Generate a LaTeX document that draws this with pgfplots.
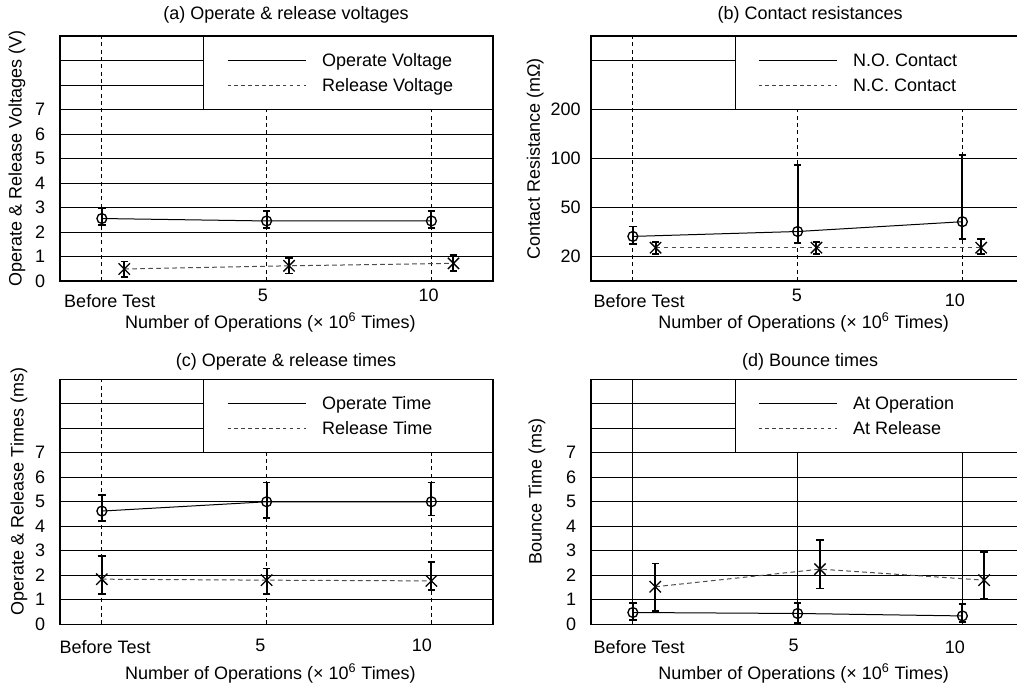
\documentclass[border=0pt]{standalone}
\usepackage{fontspec}
\setmainfont{Liberation Sans}
\usepackage{pgfplots}
\pgfplotsset{compat=1.18}
\definecolor{relgray}{gray}{0.3}
\pgfplotsset{
  panel/.style={
    set layers, mark layer=axis foreground, clip=false,
    scale only axis, width=324.75pt, height=183.75pt,
    xmin=-1.27, xmax=11.87,
    axis line style={black, line width=0.9pt},
    tick style={draw=none}, major tick length=0pt,
    ymajorgrids=true, xmajorgrids=false,
    major grid style={black, line width=0.7pt},
    extra x ticks={0,5,10}, extra x tick labels={},
    /pgf/number format/assume math mode=true,
    xticklabel style={anchor=base, inner sep=0pt, yshift=-15.5pt},
    yticklabel style={anchor=east, inner sep=0pt, xshift=-11pt},
    every axis title shift=0pt,
    title style={anchor=center, inner sep=0pt},
    xlabel style={anchor=center, inner sep=0pt},
    ylabel style={anchor=center, inner sep=0pt},
    xlabel={Number of Operations (× 10\textsuperscript{6} Times)},
    legend image code/.code={\draw[#1] (0pt,0pt) -- (58.5pt,0pt);},
    legend style={draw=none, fill=none, inner sep=0pt, outer sep=0pt,
      at={(rel axis cs:0.3857,0.9433)}, anchor=north west,
      row sep=3.55pt, column sep=12pt,
      nodes={inner sep=0pt, text height=12.4pt, text depth=2.8pt}},
    legend cell align=left,
  },
  dashgrid/.style={extra x tick style={grid=major, major grid style={black, line width=0.7pt, dash pattern=on 3pt off 2.5pt}}},
  solidgrid/.style={extra x tick style={grid=major, major grid style={black, line width=0.7pt}}},
  opline/.style={black, line width=0.75pt, mark=o, mark size=3.7pt,
    mark options={solid, fill=white, line width=1pt},
    error bars/.cd, y dir=both, y explicit,
    error bar style={line width=1.5pt, solid, black},
    error mark options={rotate=90, line width=1.3pt, mark size=2.8pt, solid, black}},
  relline/.style={relgray, line width=0.75pt, dash pattern=on 3.5pt off 2.5pt, mark=x, mark size=6pt,
    mark options={solid, black, line width=1pt},
    error bars/.cd, y dir=both, y explicit,
    error bar style={line width=1.5pt, solid, black},
    error mark options={rotate=90, line width=1.3pt, mark size=2.8pt, solid, black}},
  legsolid/.style={black, line width=0.75pt},
  legdash/.style={black!75, line width=0.75pt, dash pattern=on 2.6pt off 2.6pt},
}
\begin{document}
\begin{tikzpicture}[font=\fontsize{13.5}{16}\selectfont]
% (a)
\begin{axis}[panel, dashgrid, at={(45pt,305.25pt)},
  ymin=0, ymax=10, ytick={0,...,9}, yticklabels={0,1,2,3,4,5,6,7,{},{}},
  xtick={0.24,4.89,9.92}, xticklabels={\raisebox{-4.2pt}{Before Test},5,10},
  title={(a) Operate \& release voltages},
  title style={at={(axis description cs:0.522,1.086)}},
  xlabel style={at={(axis description cs:0.486,-0.171)}},
  ylabel={Operate \& Release Voltages (V)},
  ylabel style={at={(axis description cs:-0.0993,0.5)}},
]
\addlegendimage{legsolid}\addlegendentry{Operate Voltage}
\addlegendimage{legdash}\addlegendentry{Release Voltage}
\addplot[forget plot, opline] coordinates {
  (0,2.55) += (0,0.42) -= (0,0.27)
  (5,2.45) += (0,0.41) -= (0,0.28)
  (10,2.45) += (0,0.41) -= (0,0.28)
};
\addplot[forget plot, relline] coordinates {
  (0.68,0.49) += (0,0.31) -= (0,0.32)
  (5.68,0.62) += (0,0.33) -= (0,0.31)
  (10.67,0.72) += (0,0.34) -= (0,0.30)
};
\draw[black, line width=0.9pt, fill=white] (rel axis cs:0.331,0.7) rectangle (rel axis cs:1,1);
\end{axis}
% (b)
\begin{axis}[panel, dashgrid, at={(443.25pt,305.25pt)},
  ymin=0.5, ymax=5.5, ytick={1,2,3,4,5}, yticklabels={20,50,100,200,{}},
  yticklabel style={xshift=3.5pt},
  xtick={0.19,4.98,9.77}, xticklabels={\raisebox{-4.2pt}{Before Test},5,\raisebox{-3.75pt}{10}},
  title={(b) Contact resistances},
  title style={at={(axis description cs:0.506,1.086)}},
  xlabel style={at={(axis description cs:0.491,-0.171)}},
  ylabel={Contact Resistance (mΩ)},
  ylabel style={at={(axis description cs:-0.129,0.498)}},
]
\addlegendimage{legsolid}\addlegendentry{N.O. Contact}
\addlegendimage{legdash}\addlegendentry{N.C. Contact}
\addplot[forget plot, opline] coordinates {
  (0,1.41) += (0,0.20) -= (0,0.15)
  (5,1.51) += (0,1.35) -= (0,0.24)
  (10,1.71) += (0,1.36) -= (0,0.36)
};
\addplot[forget plot, relline] coordinates {
  (0.69,1.18) += (0,0.12) -= (0,0.125)
  (5.57,1.18) += (0,0.12) -= (0,0.125)
  (10.57,1.18) += (0,0.17) -= (0,0.125)
};
\draw[black, line width=0.9pt, fill=white] (rel axis cs:0.333,0.7) rectangle (rel axis cs:1,1);
\end{axis}
% (c)
\begin{axis}[panel, dashgrid, at={(45pt,47.8pt)},
  ymin=0, ymax=10, ytick={0,...,9}, yticklabels={0,1,2,3,4,5,6,7,{},{}},
  xtick={0.10,4.81,9.71}, xticklabels={\raisebox{-6.75pt}{Before Test},\raisebox{-5pt}{5},\raisebox{-5pt}{10}},
  title={(c) Operate \& release times},
  title style={at={(axis description cs:0.522,1.072)}},
  xlabel style={at={(axis description cs:0.486,-0.2)}},
  ylabel={Operate \& Release Times (ms)},
  ylabel style={at={(axis description cs:-0.0947,0.542)}},
]
\addlegendimage{legsolid}\addlegendentry{Operate Time}
\addlegendimage{legdash}\addlegendentry{Release Time}
\addplot[forget plot, opline] coordinates {
  (0,4.62) += (0,0.65) -= (0,0.41)
  (5,5.0) += (0,0.79) -= (0,0.67)
  (10,5.0) += (0,0.79) -= (0,0.56)
};
\addplot[forget plot, relline] coordinates {
  (0,1.84) += (0,0.94) -= (0,0.61)
  (5,1.80) += (0,0.48) -= (0,0.55)
  (10,1.77) += (0,0.77) -= (0,0.38)
};
\draw[black, line width=0.9pt, fill=white] (rel axis cs:0.331,0.7) rectangle (rel axis cs:1,1);
\end{axis}
% (d)
\begin{axis}[panel, solidgrid, at={(443.25pt,47.8pt)},
  ymin=0, ymax=10, ytick={0,...,9}, yticklabels={0,1,2,3,4,5,6,7,{},{}},
  xtick={0.19,4.88,9.77}, xticklabels={\raisebox{-6.75pt}{Before Test},\raisebox{-5pt}{5},\raisebox{-6.1pt}{10}},
  title={(d) Bounce times},
  title style={at={(axis description cs:0.506,1.072)}},
  xlabel style={at={(axis description cs:0.491,-0.2)}},
  ylabel={Bounce Time (ms)},
  ylabel style={at={(axis description cs:-0.125,0.542)}},
]
\addlegendimage{legsolid}\addlegendentry{At Operation}
\addlegendimage{legdash}\addlegendentry{At Release}
\addplot[forget plot, opline] coordinates {
  (0,0.48) += (0,0.38) -= (0,0.31)
  (5,0.44) += (0,0.43) -= (0,0.40)
  (10,0.34) += (0,0.48) -= (0,0.26)
};
\addplot[forget plot, relline] coordinates {
  (0.68,1.53) += (0,0.95) -= (0,0.98)
  (5.68,2.25) += (0,1.18) -= (0,0.79)
  (10.66,1.80) += (0,1.16) -= (0,0.78)
};
\draw[black, line width=0.9pt, fill=white] (rel axis cs:0.333,0.7) rectangle (rel axis cs:1,1);
\end{axis}
\pgfresetboundingbox
\path[use as bounding box] (0,0) rectangle (762.75pt,516pt);
\end{tikzpicture}
\end{document}
